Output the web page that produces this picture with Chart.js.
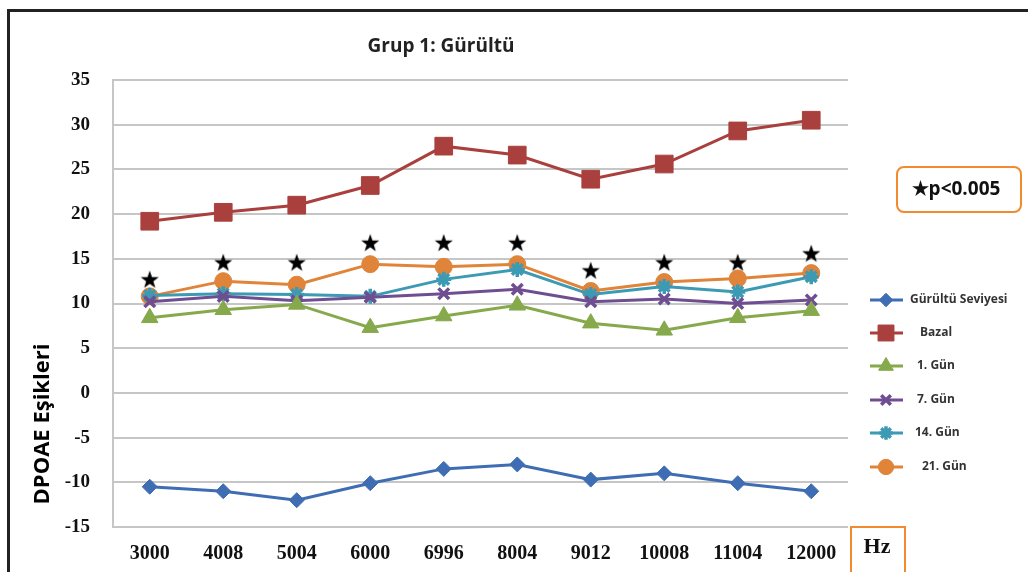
<!DOCTYPE html>
<html>
<head>
<meta charset="utf-8">
<script src="https://cdn.jsdelivr.net/npm/chart.js@4/dist/chart.umd.min.js"></script>
<style>
  html, body { margin: 0; padding: 0; background: #fff; overflow: hidden; }
  #frame { position: absolute; left: 7px; top: 9px; width: 1040px; height: 600px; border: 3px solid #222; }
  #wrap { position: absolute; left: 0; top: 0; width: 1028px; height: 572px; }
</style>
</head>
<body>
<div id="frame"></div>
<div id="wrap"><canvas id="c" width="1028" height="572"></canvas></div>
<script>
const categories = ['3000','4008','5004','6000','6996','8004','9012','10008','11004','12000'];
const gurultu = [-10.5, -11.0, -12.0, -10.1, -8.5, -8.0, -9.7, -9.0, -10.1, -11.0];
const bazal   = [19.2, 20.2, 21.0, 23.2, 27.6, 26.6, 23.9, 25.6, 29.3, 30.5];
const gun1    = [8.4, 9.3, 9.9, 7.3, 8.6, 9.8, 7.8, 7.0, 8.4, 9.2];
const gun7    = [10.2, 10.8, 10.3, 10.7, 11.1, 11.6, 10.2, 10.5, 10.0, 10.4];
const gun14   = [10.9, 11.1, 11.0, 10.8, 12.7, 13.8, 11.0, 11.9, 11.3, 13.0];
const gun21   = [10.8, 12.5, 12.1, 14.4, 14.1, 14.4, 11.4, 12.4, 12.8, 13.4];
const starPos = [12.7, 14.6, 14.6, 16.8, 16.8, 16.8, 13.7, 14.6, 14.6, 15.6];
const yTicks  = [35, 30, 25, 20, 15, 10, 5, 0, -5, -10, -15];
const seriesNames = ['Gürültü Seviyesi', 'Bazal', '1. Gün', '7. Gün', '14. Gün', '21. Gün'];

const colors = ['#3F6DB3', '#A9403D', '#86A94B', '#6E4E90', '#3C9AB4', '#E0843A'];
const styles = ['rectRot', 'rect', 'triangle', 'crossRot', 'star', 'circle'];
const radii  = [7.5, 12.5, 9.5, 7.5, 7.5, 8.5];

// filled five-point star image for significance markers
const starImg = document.createElement('canvas');
starImg.width = 20; starImg.height = 20;
(function(){
  const g = starImg.getContext('2d');
  g.fillStyle = '#000';
  g.beginPath();
  for (let i = 0; i < 10; i++) {
    const r = i % 2 === 0 ? 9.5 : 3.8;
    const a = -Math.PI / 2 + i * Math.PI / 5;
    const x = 10 + r * Math.cos(a), y = 10.8 + r * Math.sin(a);
    if (i === 0) g.moveTo(x, y); else g.lineTo(x, y);
  }
  g.closePath();
  g.fill();
})();

const seriesData = [gurultu, bazal, gun1, gun7, gun14, gun21];
const datasets = seriesData.map((d, i) => ({
  label: seriesNames[i],
  data: d,
  borderColor: colors[i],
  backgroundColor: colors[i],
  pointBackgroundColor: colors[i],
  pointBorderColor: colors[i],
  borderWidth: 3,
  pointStyle: styles[i],
  pointRadius: radii[i],
  pointBorderWidth: (styles[i] === 'crossRot' || styles[i] === 'star') ? 3.5 : 1,
  tension: 0,
  fill: false
}));
datasets.push({
  label: 'stars',
  data: starPos,
  showLine: false,
  pointStyle: starImg,
  pointRadius: 10,
  borderWidth: 0
});

const decor = {
  id: 'decor',
  afterDraw(chart) {
    const ctx = chart.ctx;
    ctx.save();
    // title
    ctx.fillStyle = '#222';
    ctx.font = 'bold 19px "Open Sans", "Liberation Sans", sans-serif';
    ctx.textAlign = 'center';
    ctx.textBaseline = 'middle';
    ctx.fillText('Grup 1: Gürültü', 441, 47);
    // y axis title
    ctx.save();
    ctx.translate(43, 424);
    ctx.rotate(-Math.PI / 2);
    ctx.font = 'bold 22px "Open Sans", "Liberation Sans", sans-serif';
    ctx.fillStyle = '#000';
    ctx.fillText('DPOAE Eşikleri', 0, 0);
    ctx.restore();
    // legend
    const ly = [300, 333, 366, 400, 433, 467];
    const lx = [910, 920, 917, 917, 915, 922];
    const helpers = Chart.helpers;
    for (let i = 0; i < 6; i++) {
      ctx.strokeStyle = colors[i];
      ctx.lineWidth = 3;
      ctx.beginPath();
      ctx.moveTo(870, ly[i]);
      ctx.lineTo(903, ly[i]);
      ctx.stroke();
      ctx.fillStyle = colors[i];
      ctx.lineWidth = (styles[i] === 'crossRot' || styles[i] === 'star') ? 3.5 : 1;
      if (helpers && helpers.drawPoint) {
        helpers.drawPoint(ctx, { pointStyle: styles[i], radius: radii[i] * 0.9, borderWidth: ctx.lineWidth, rotation: 0 }, 886, ly[i]);
      }
      ctx.fillStyle = '#333';
      ctx.font = 'bold 12px "Open Sans", "Liberation Sans", sans-serif';
      ctx.textAlign = 'left';
      ctx.fillText(seriesNames[i], lx[i], ly[i]);
    }
    // p box
    ctx.strokeStyle = '#F28A2E';
    ctx.lineWidth = 2;
    ctx.beginPath();
    ctx.roundRect(897, 167, 124, 45, 7);
    ctx.stroke();
    ctx.fillStyle = '#111';
    ctx.font = 'bold 19px "Open Sans", "Liberation Sans", sans-serif';
    ctx.textAlign = 'center';
    ctx.fillText('★p<0.005', 956, 190);
    // Hz box
    ctx.strokeStyle = '#F28A2E';
    ctx.lineWidth = 2;
    ctx.strokeRect(851, 527, 54, 50);
    ctx.fillStyle = '#111';
    ctx.font = 'bold 22px "Liberation Serif", "Times New Roman", serif';
    ctx.fillText('Hz', 877, 547);
    ctx.restore();
  }
};

new Chart(document.getElementById('c'), {
  type: 'line',
  data: { labels: categories, datasets },
  options: {
    responsive: false,
    animation: false,
    devicePixelRatio: 1,
    layout: { padding: { left: 0, right: 180, top: 80, bottom: 0 } },
    plugins: { legend: { display: false }, title: { display: false }, tooltip: { enabled: false } },
    scales: {
      x: {
        offset: true,
        grid: { display: false, drawTicks: false },
        border: { display: false },
        ticks: { color: '#111', font: { family: '"Liberation Serif", "Times New Roman", serif', weight: 'bold', size: 20 }, padding: 15, maxRotation: 0, autoSkip: false },
        afterFit(s) { s.height = 45; }
      },
      y: {
        min: -15, max: 35,
        afterBuildTicks(s) { s.ticks = yTicks.map(v => ({ value: v })); },
        grid: { color: '#c6c6c6', lineWidth: 2, drawTicks: false },
        border: { display: true, color: '#c6c6c6', width: 2 },
        ticks: { color: '#111', font: { family: '"Liberation Serif", "Times New Roman", serif', weight: 'bold', size: 19 }, padding: 23 },
        afterFit(s) { s.width = 113; }
      }
    }
  },
  plugins: [decor]
});
</script>
</body>
</html>
